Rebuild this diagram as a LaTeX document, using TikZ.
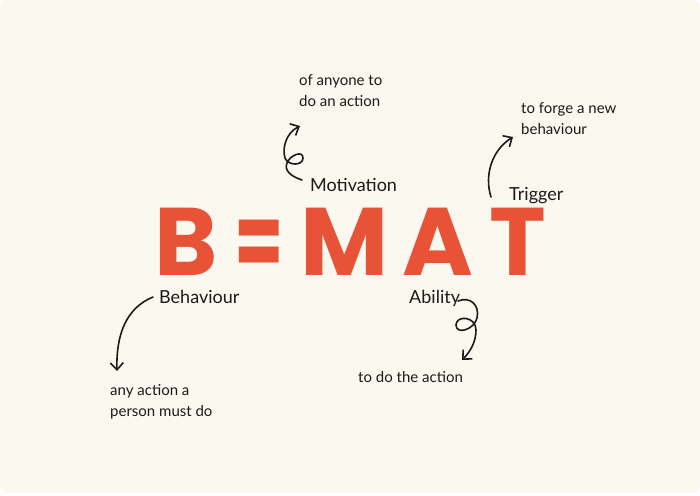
\documentclass[tikz,border=0pt]{standalone}
\usepackage{fontspec}
\setmainfont{Lato}
\newfontfamily\bigfont{Poppins}[UprightFont=* Bold]
\usetikzlibrary{arrows.meta}
\definecolor{cream}{RGB}{251,248,239}
\definecolor{brick}{RGB}{232,83,55}
\definecolor{ink}{RGB}{26,26,26}

\begin{document}
\begin{tikzpicture}[x=1pt,y=-1pt,
big/.style={font=\bigfont\fontsize{96}{96}\selectfont,text=brick,inner sep=0pt,anchor=base,
  text height=67pt,text depth=0pt},
lbl/.style={font=\fontsize{18}{20}\selectfont,text=ink,inner sep=0pt,anchor=base west},
note/.style={font=\fontsize{15}{21}\selectfont,text=ink,inner sep=0pt,anchor=base west,align=left},
curl/.style={-{Straight Barb[length=7pt,width=13pt]},line width=1.6pt,line cap=round,draw=ink}]
\useasboundingbox (0,0) rectangle (700,495);
\fill[white] (0,0) rectangle (700,495);
\fill[cream,rounded corners=8pt] (0,0) rectangle (700,493);
% the formula
\node[big] (b) at (186,275) {B};
\node[big,xscale=0.74,yscale=1.1] (eq) at (259,278) {=};
\node[big] (m) at (345,275) {M};
\node[big] (a) at (438,275) {A};
\node[big] (t) at (518,275) {T};
% labels
\node[lbl] (motivation) at (310,191) {Motivation};
\node[lbl] (trigger) at (509,200) {Trigger};
\node[lbl] (behaviour) at (159,303) {Behaviour};
\node[lbl] (ability) at (409,303) {Ability};
% notes (base = last line)
\node[note] (motnote) at (299,106) {of anyone to\\do an action};
\node[note] (trignote) at (521,134) {to forge a new\\behaviour};
\node[note] (behnote) at (110,416) {any action a\\person must do};
\node[note] (abnote) at (358,382) {to do the action};
% arrows
\coordinate (mottail) at (302,180);
\coordinate (mottip) at (300,126);
\coordinate (trigtail) at (491,197);
\coordinate (trigtip) at (513,137);
\coordinate (behtail) at (153,297);
\coordinate (behtip) at (117,371);
\coordinate (abtail) at (458,301);
\coordinate (abtip) at (462,360);
\draw[curl] (mottail) .. controls (290,176) and (284,170) .. (287,163)
  .. controls (290,155) and (303,150) .. (303,158)
  .. controls (303,166) and (288,166) .. (285,158)
  .. controls (282,148) and (286,133) .. (mottip);
\draw[curl] (trigtail) .. controls (484,175) and (492,150) .. (trigtip);
\draw[curl] (behtail) .. controls (126,308) and (116,335) .. (behtip);
\draw[curl] (abtail) .. controls (470,296) and (480,305) .. (477,318)
  .. controls (474,330) and (456,335) .. (456,325)
  .. controls (456,315) and (476,316) .. (476,330)
  .. controls (476,342) and (470,352) .. (abtip);
\end{tikzpicture}
\end{document}
